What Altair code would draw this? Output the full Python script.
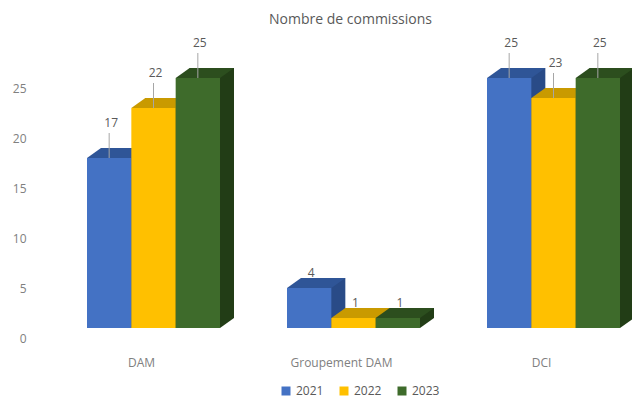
import altair as alt
import pandas as pd

# ---- data ----
categories = ["DAM", "Groupement DAM", "DCI"]
years = ["2021", "2022", "2023"]
v2021 = [17, 4, 25]
v2022 = [22, 1, 23]
v2023 = [25, 1, 25]

front_colors = ["#4472C4", "#FFC000", "#3E6B2B"]
top_colors = ["#2F5597", "#C99A00", "#2C4E1E"]
side_colors = ["#294B87", "#A88000", "#223D16"]

FONT = "Open Sans"

rows = []
for i, c in enumerate(categories):
    for y, vals in zip(years, [v2021, v2022, v2023]):
        rows.append({"cat": c, "year": y, "value": vals[i]})
df = pd.DataFrame(rows)

# parallelogram used for the top / bottom faces of the 3D boxes
FACE = "M -1.1083 0 L 1.1083 0 L 1.8083 -0.5 L -0.4083 -0.5 Z"

x_enc = alt.X("cat:N", sort=categories, title=None,
              scale=alt.Scale(paddingInner=0.335, paddingOuter=0.06))
xo_enc = alt.XOffset("year:N", sort=years,
                     scale=alt.Scale(type="band", paddingInner=0, paddingOuter=0))
# same sub-bands, pushed back by the box depth (side faces)
xo_side = alt.XOffset("year:N", sort=years,
                      scale=alt.Scale(type="band", paddingInner=0, paddingOuter=0, range=[14, 147]))
yscale = alt.Scale(domain=[0, 30])
yaxis = alt.Axis(values=[0, 5, 10, 15, 20, 25], title=None)


def Y(field):
    return alt.Y(field, type="quantitative", scale=yscale, axis=yaxis, title=None)


base = alt.Chart(df).transform_calculate(
    top="datum.value + 1",
    base="1",
    labelY="datum.value + 1 + (datum.value > 5 ? 3.5 : 1.5)",
)

side = base.mark_bar(yOffset=-10, y2Offset=-10, strokeWidth=0).encode(
    x=x_enc, xOffset=xo_side, y=Y("top"), y2="base:Q",
    color=alt.Color("year:N", scale=alt.Scale(domain=years, range=side_colors), legend=None),
)

bottom = base.mark_point(shape=FACE, size=1600, filled=True, opacity=1, strokeWidth=0).encode(
    x=x_enc, xOffset=xo_enc, y=Y("base"),
    color=alt.Color("year:N", scale=alt.Scale(domain=years, range=side_colors), legend=None),
)

topface = base.mark_point(shape=FACE, size=1600, filled=True, opacity=1, strokeWidth=0).encode(
    x=x_enc, xOffset=xo_enc, y=Y("top"),
    color=alt.Color("year:N", scale=alt.Scale(domain=years, range=top_colors), legend=None),
)

front = base.mark_bar(strokeWidth=0).encode(
    x=x_enc, xOffset=xo_enc, y=Y("top"), y2="base:Q",
    color=alt.Color(
        "year:N",
        scale=alt.Scale(domain=years, range=front_colors),
        legend=alt.Legend(
            orient="none", legendX=205, legendY=347, direction="horizontal",
            title=None, symbolType="square", symbolSize=81, symbolStrokeWidth=0,
            labelFont=FONT, labelFontSize=12, labelColor="#595959",
            columnPadding=14, labelOffset=4, padding=0,
        ),
    ),
)

leader = base.transform_filter("datum.value > 5").mark_rule(
    color="#A6A6A6", strokeWidth=1, y2Offset=-25
).encode(x=x_enc, xOffset=xo_enc, y=Y("top"), y2="top:Q")

labels = base.mark_text(dx=2, fontSize=12, font=FONT, color="#595959", baseline="middle").encode(
    x=x_enc, xOffset=xo_enc, y=Y("labelY"), text="value:Q"
)

chart = alt.layer(side, bottom, topface, front, leader, labels).resolve_scale(
    color="independent", xOffset="independent"
).properties(
    width=557,
    height=300,
    autosize=alt.AutoSizeParams(type="none"),
    padding={"left": 67, "top": 30, "right": 0, "bottom": 62},
    title=alt.TitleParams(
        "Nombre de commissions", font=FONT, fontSize=14, fontWeight="normal",
        color="#595959", offset=10, dx=-3, anchor="middle",
    ),
).configure_view(stroke=None).configure_axis(
    domain=False, ticks=False, grid=False,
    labelFont=FONT, labelFontSize=12, labelColor="#808080",
).configure_axisX(labelAngle=0, labelPadding=19, labelOffset=-12).configure_axisY(
    labelPadding=49
)

chart.save("out.html", embed_options={"renderer": "svg", "actions": False})
